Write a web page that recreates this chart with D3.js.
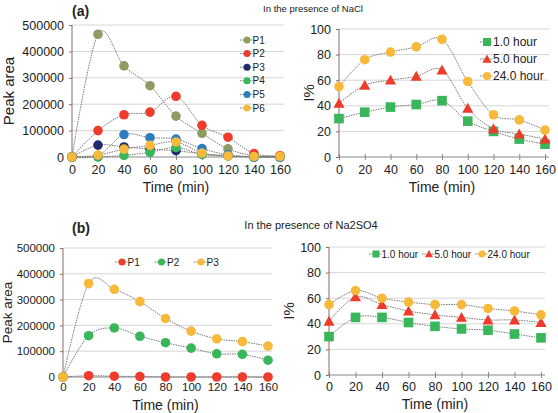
<!DOCTYPE html>
<html>
<head>
<meta charset="utf-8">
<script src="https://d3js.org/d3.v7.min.js"></script>
<style>
  body { margin: 0; background: #fff; }
  svg text { font-family: "Liberation Sans", Arial, sans-serif; fill: #222; }
  .grid line { stroke: #d6d6d6; }
</style>
</head>
<body>
<svg id="chart" width="558" height="413"></svg>
<script>
// time points (min)
const times = [0, 20, 40, 60, 80, 100, 120, 140, 160];

// (a) NaCl - peak area
const naclP1 = [0, 465000, 345000, 270000, 155000, 90000, 31000, 5000, 3000];
const naclP2 = [0, 100000, 160000, 170000, 230000, 120000, 75000, 13000, 5000];
const naclP3 = [0, 45000, 38000, 30000, 24000, 12000, 5000, 0, 0];
const naclP4 = [0, 0, 6000, 18000, 36000, 10000, 3000, 0, 0];
const naclP5 = [0, 5000, 85000, 73000, 68000, 32000, 8000, 1000, 0];
const naclP6 = [0, 7000, 30000, 44000, 57000, 15000, 4000, 2000, 2000];

// (a) NaCl - I%
const nacl1h = [30, 35, 39, 41, 44, 28, 20, 14, 10];
const nacl5h = [42, 56, 60, 63, 68, 38, 22, 18, 14];
const nacl24h = [55, 76, 82, 86, 92, 59, 33, 29, 21];

// (b) Na2SO4 - peak area
const sulfP1 = [0, 5000, 3000, 2000, 0, 0, 0, 0, 0];
const sulfP2 = [0, 160000, 190000, 158000, 133000, 112000, 90000, 88000, 65000];
const sulfP3 = [0, 362000, 340000, 292000, 227000, 178000, 148000, 137000, 120000];

// (b) Na2SO4 - I%
const sulf1h = [30, 45, 45, 41, 38, 36, 35, 32, 29];
const sulf5h = [42, 61, 55, 50, 47, 45, 43, 43, 41];
const sulf24h = [55, 66, 60, 57, 55, 55, 52, 50, 47];

const areaTicks = [0, 100000, 200000, 300000, 400000, 500000];
const pctTicks = [0, 20, 40, 60, 80, 100];

const svg = d3.select('#chart');

const colors = {
  olive: '#8e9b63', red: '#ee3b2b', navy: '#1d2c6e',
  green: '#39b55a', blue: '#2c7cc0', yellow: '#f6b93a'
};

function drawMarker(g, shape, color, x, y, size) {
  if (shape === 'square') {
    g.append('rect').attr('x', x - size).attr('y', y - size)
      .attr('width', size * 2).attr('height', size * 2).attr('fill', color);
  } else if (shape === 'triangle') {
    const s = size * 1.15;
    g.append('path')
      .attr('d', `M${x},${y - s}L${x + s},${y + s * 0.8}L${x - s},${y + s * 0.8}Z`)
      .attr('fill', color);
  } else {
    g.append('circle').attr('cx', x).attr('cy', y).attr('r', size).attr('fill', color);
  }
}

function panel(cfg) {
  const g = svg.append('g');
  const x = d3.scaleLinear().domain([0, 160]).range(cfg.xr);
  const y = d3.scaleLinear().domain([0, cfg.ymax]).range(cfg.yr);

  // gridlines
  g.append('g').attr('class', 'grid')
    .selectAll('line').data(cfg.yticks.slice(1)).join('line')
    .attr('x1', cfg.xr[0]).attr('x2', cfg.xr[1] + 4)
    .attr('y1', d => y(d)).attr('y2', d => y(d));

  // x axis
  const xAxis = g.append('g')
    .attr('transform', `translate(0,${cfg.yr[0]})`)
    .call(d3.axisBottom(x).tickValues(times).tickSize(3).tickPadding(cfg.xPad));
  xAxis.select('.domain').attr('stroke', '#888').attr('d', `M${cfg.xr[0]},0H${cfg.xr[1] + 4}`);
  xAxis.selectAll('.tick line').attr('stroke', '#888').attr('y1', -3);
  xAxis.selectAll('.tick text').attr('font-size', cfg.tfs).style('fill', '#222');

  // y axis
  const yAxis = g.append('g')
    .attr('transform', `translate(${cfg.xr[0]},0)`)
    .call(d3.axisLeft(y).tickValues(cfg.yticks).tickSize(3).tickPadding(5).tickFormat(d3.format('d')));
  yAxis.select('.domain').attr('stroke', '#8a6d66').attr('d', `M0,${cfg.yr[0]}V${cfg.yr[1]}`);
  yAxis.selectAll('.tick line').attr('stroke', '#8a6d66');
  yAxis.selectAll('.tick text').attr('font-size', cfg.tfs).style('fill', '#222');

  // axis titles
  g.append('text').attr('x', (cfg.xr[0] + cfg.xr[1]) / 2).attr('y', cfg.yr[0] + cfg.tOff)
    .attr('text-anchor', 'middle').attr('font-size', 14).text('Time (min)');
  g.append('text')
    .attr('transform', `translate(${cfg.ylabX},${(cfg.yr[0] + cfg.yr[1]) / 2}) rotate(-90)`)
    .attr('text-anchor', 'middle').attr('font-size', cfg.yfs).text(cfg.ylabel);

  const line = d3.line().x((d, i) => x(times[i])).y(d => y(d)).curve(d3.curveCardinal);

  cfg.series.forEach(s => {
    g.append('path').attr('d', line(s.values))
      .attr('fill', 'none').attr('stroke', '#777').attr('stroke-width', 1)
      .attr('stroke-dasharray', '1.5,1');
  });
  cfg.series.forEach(s => {
    s.values.forEach((v, i) => drawMarker(g, s.shape, s.color, x(times[i]), y(v), cfg.msize));
  });

  // legend
  cfg.series.forEach((s, i) => {
    const lx = cfg.legend.x + (cfg.legend.dx || 0) * i;
    const ly = cfg.legend.y + (cfg.legend.dy || 0) * i;
    g.append('line').attr('x1', lx - 7).attr('x2', lx + 6).attr('y1', ly).attr('y2', ly)
      .attr('stroke', '#777').attr('stroke-dasharray', '1.5,1');
    drawMarker(g, s.shape, s.color, lx, ly, cfg.legend.msize);
    g.append('text').attr('x', lx + cfg.legend.msize + 2).attr('y', ly + cfg.legend.fs * 0.36)
      .attr('font-size', cfg.legend.fs).text(s.name);
  });
}

panel({
  xr: [72, 280], yr: [157, 25], ymax: 500000, yticks: areaTicks, ylabel: 'Peak area', ylabX: 14,
  msize: 4.8, tOff: 35, xPad: 5, tfs: 12.5, yfs: 15,
  series: [
    { name: 'P1', values: naclP1, color: colors.olive, shape: 'circle' },
    { name: 'P2', values: naclP2, color: colors.red, shape: 'circle' },
    { name: 'P3', values: naclP3, color: colors.navy, shape: 'circle' },
    { name: 'P4', values: naclP4, color: colors.green, shape: 'circle' },
    { name: 'P5', values: naclP5, color: colors.blue, shape: 'circle' },
    { name: 'P6', values: naclP6, color: colors.yellow, shape: 'circle' }
  ],
  legend: { x: 247, y: 40, dy: 13.6, msize: 3.5, fs: 10 }
});

panel({
  xr: [339, 545], yr: [157, 29], ymax: 100, yticks: pctTicks, ylabel: 'I%', ylabX: 314,
  msize: 4.8, tOff: 35, xPad: 5, tfs: 12.5, yfs: 15,
  series: [
    { name: '1.0 hour', values: nacl1h, color: colors.green, shape: 'square' },
    { name: '5.0 hour', values: nacl5h, color: colors.red, shape: 'triangle' },
    { name: '24.0 hour', values: nacl24h, color: colors.yellow, shape: 'circle' }
  ],
  legend: { x: 487, y: 42, dy: 17, msize: 4, fs: 12 }
});

panel({
  xr: [63, 268], yr: [377, 248], ymax: 500000, yticks: areaTicks, ylabel: 'Peak area', ylabX: 12,
  msize: 4.8, tOff: 33, xPad: 3, tfs: 11.5, yfs: 13.5,
  series: [
    { name: 'P1', values: sulfP1, color: colors.red, shape: 'circle' },
    { name: 'P2', values: sulfP2, color: colors.green, shape: 'circle' },
    { name: 'P3', values: sulfP3, color: colors.yellow, shape: 'circle' }
  ],
  legend: { x: 122, y: 262, dx: 39.5, msize: 3.5, fs: 10 }
});

panel({
  xr: [329, 541], yr: [375, 247], ymax: 100, yticks: pctTicks, ylabel: 'I%', ylabX: 294,
  msize: 4.8, tOff: 34, xPad: 4, tfs: 12.5, yfs: 15,
  series: [
    { name: '1.0 hour', values: sulf1h, color: colors.green, shape: 'square' },
    { name: '5.0 hour', values: sulf5h, color: colors.red, shape: 'triangle' },
    { name: '24.0 hour', values: sulf24h, color: colors.yellow, shape: 'circle' }
  ],
  legend: { x: 376, y: 254, dx: 53, msize: 3.5, fs: 10 }
});

// panel labels and titles
svg.append('text').attr('x', 72).attr('y', 16).attr('font-size', 14).attr('font-weight', 'bold').text('(a)');
svg.append('text').attr('x', 72).attr('y', 233).attr('font-size', 14).attr('font-weight', 'bold').text('(b)');
svg.append('text').attr('x', 313).attr('y', 12).attr('text-anchor', 'middle').attr('font-size', 9.5)
  .text('In the presence of NaCl');
svg.append('text').attr('x', 311).attr('y', 229).attr('text-anchor', 'middle').attr('font-size', 11)
  .text('In the presence of Na2SO4');
</script>
</body>
</html>
